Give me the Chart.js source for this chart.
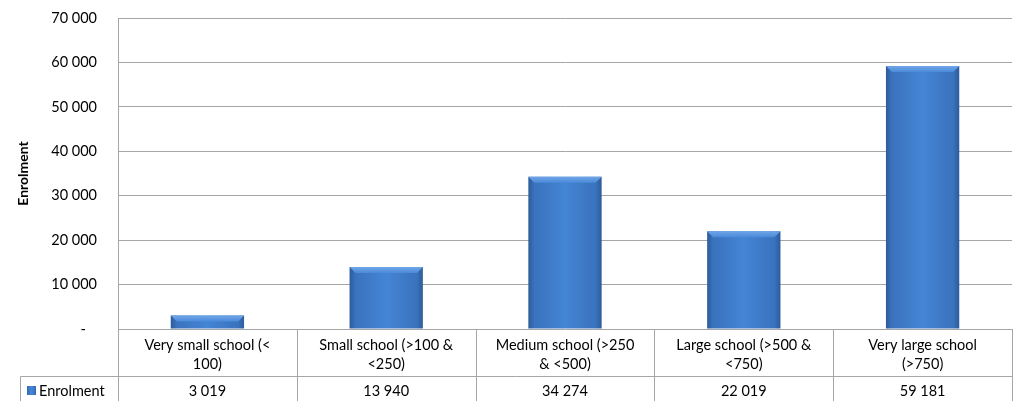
<!DOCTYPE html>
<html>
<head>
<meta charset="utf-8">
<script src="https://cdn.jsdelivr.net/npm/chart.js@4"></script>
<style>
  body { margin: 0; background: #fff; }
  #wrap { width: 1013px; height: 401px; }
</style>
</head>
<body>
<div id="wrap"><canvas id="chart"></canvas></div>
<script>
// data
var categories = [
    ["Very small school (<", "100)"],
    ["Small school (>100 &", "<250)"],
    ["Medium school (>250", "& <500)"],
    ["Large school (>500 &", "<750)"],
    ["Very large school", "(>750)"]
];
var seriesName = "Enrolment";
var enrolment = [3019, 13940, 34274, 22019, 59181];
var yTicks = [0, 10000, 20000, 30000, 40000, 50000, 60000, 70000];

var FONT = "Lato, 'Open Sans', sans-serif";
var FSIZE = 14.5;
var LINE = "#a6a6a6";
var BAR_PCT = 0.41;

function fmt(n) {
    return String(n).replace(/\B(?=(\d{3})+(?!\d))/g, " ");
}

function hGrad(c, x0, x1) {
    var g = c.createLinearGradient(x0, 0, x1, 0);
    g.addColorStop(0, "#2c5b9b");
    g.addColorStop(0.08, "#3a72bd");
    g.addColorStop(0.5, "#4485d5");
    g.addColorStop(0.92, "#3a72bd");
    g.addColorStop(1, "#2c5b9b");
    return g;
}

function barFill(ctx) {
    var chart = ctx.chart;
    var xs = chart.scales.x;
    if (!chart.chartArea || !xs) return "#3f7bc8";
    var cx = xs.getPixelForValue(ctx.dataIndex);
    var w = (chart.chartArea.right - chart.chartArea.left) / categories.length * BAR_PCT;
    return hGrad(chart.ctx, cx - w / 2, cx + w / 2);
}

// light bevel along the top of each bar
var bevel = {
    id: "bevel",
    afterDatasetsDraw: function (chart) {
        var ctx = chart.ctx;
        chart.getDatasetMeta(0).data.forEach(function (bar) {
            var l = bar.x - bar.width / 2, r = bar.x + bar.width / 2, t = bar.y;
            var b = 6;
            if (bar.base - t < b * 2) b = Math.max(2, (bar.base - t) / 2);
            var g = ctx.createLinearGradient(0, t, 0, t + b);
            g.addColorStop(0, "#70a6e8");
            g.addColorStop(1, "#4a8ad8");
            ctx.save();
            ctx.fillStyle = g;
            ctx.beginPath();
            ctx.moveTo(l, t);
            ctx.lineTo(r, t);
            ctx.lineTo(r - b, t + b);
            ctx.lineTo(l + b, t + b);
            ctx.closePath();
            ctx.fill();
            ctx.restore();
        });
    }
};

// draws the data table under the plot
var dataTable = {
    id: "dataTable",
    afterDraw: function (chart) {
        var ctx = chart.ctx;
        var area = chart.chartArea;
        var xs = chart.scales.x;
        var n = categories.length;
        var colW = (area.right - area.left) / n;
        var top = area.bottom;
        var mid = top + 47;
        var bottom = chart.height;
        var legendLeft = 20.5;

        ctx.save();
        ctx.strokeStyle = LINE;
        ctx.lineWidth = 1;
        ctx.beginPath();
        ctx.moveTo(legendLeft, Math.round(mid) + 0.5);
        ctx.lineTo(area.right, Math.round(mid) + 0.5);
        for (var i = 0; i <= n; i++) {
            var x = Math.round(area.left + colW * i) + 0.5;
            ctx.moveTo(x, top);
            ctx.lineTo(x, bottom);
        }
        ctx.moveTo(legendLeft, Math.round(mid) + 0.5);
        ctx.lineTo(legendLeft, bottom);
        ctx.stroke();

        ctx.fillStyle = "#000";
        ctx.font = FSIZE + "px " + FONT;
        ctx.textAlign = "center";
        ctx.textBaseline = "middle";
        for (var j = 0; j < n; j++) {
            var cx = xs.getPixelForValue(j);
            var lines = categories[j];
            for (var k = 0; k < lines.length; k++) {
                ctx.fillText(lines[k], cx, top + 16 + k * 19);
            }
            ctx.fillText(fmt(enrolment[j]), cx, mid + 15);
        }

        // legend key
        ctx.fillStyle = hGrad(ctx, 27, 36);
        ctx.fillRect(27, mid + 10, 9, 9);
        ctx.fillStyle = "#000";
        ctx.textAlign = "left";
        ctx.fillText(seriesName, 39, mid + 15);
        ctx.restore();
    }
};

new Chart(document.getElementById("chart"), {
    type: "bar",
    data: {
        labels: categories,
        datasets: [{
            label: seriesName,
            data: enrolment,
            backgroundColor: barFill,
            borderWidth: 0,
            categoryPercentage: 1,
            barPercentage: BAR_PCT
        }]
    },
    options: {
        responsive: true,
        maintainAspectRatio: false,
        animation: false,
        layout: { padding: { top: 18, bottom: 72, left: 0, right: 1 } },
        plugins: {
            legend: { display: false },
            tooltip: { enabled: false }
        },
        scales: {
            x: {
                display: false
            },
            y: {
                min: 0,
                max: 70000,
                afterBuildTicks: function (s) {
                    s.ticks = yTicks.map(function (v) { return { value: v }; });
                },
                afterFit: function (s) {
                    s.width = 118;
                    s.paddingTop = 0;
                    s.paddingBottom = 0;
                },
                border: { display: true, color: LINE },
                grid: { color: LINE, drawTicks: false },
                ticks: {
                    padding: 21,
                    color: "#000",
                    font: { family: FONT, size: FSIZE },
                    callback: function (v) { return v === 0 ? "-   " : fmt(v); }
                },
                title: {
                    display: true,
                    text: "Enrolment",
                    color: "#000",
                    font: { family: FONT, size: 14, weight: "bold" },
                    padding: { top: 15, bottom: 0 }
                }
            }
        }
    },
    plugins: [bevel, dataTable]
});
</script>
</body>
</html>
